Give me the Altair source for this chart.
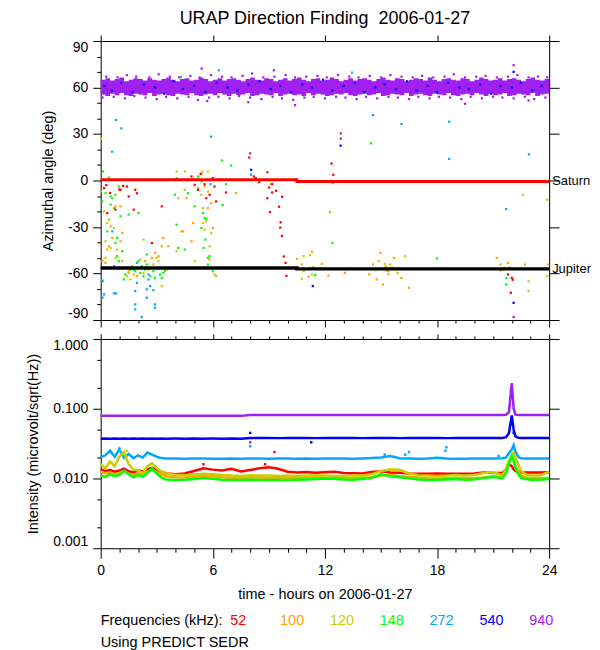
import altair as alt
import pandas as pd

FONT = "Liberation Sans"
TITLE = "URAP Direction Finding\u00a0 2006-01-27"
FREQS = ["52", "100", "120", "148", "272", "540", "940"]
COLORS = ["#ff0000", "#ffa500", "#cccc00", "#00ff00", "#00a8ff", "#0000ff", "#a020f0"]

# ---------------- top panel: azimuthal angle (hour, deg) ----------------
AZ_52 = [[0.18,-4.9],[0.35,-21.0],[0.3,-3.0],[0.5,-8.0],[0.79,-18.8],[1.0,-5.8],[1.06,-6.0],[1.2,-3.5],
         [1.41,-3.9],[1.5,-10.3],[1.77,-18.8],[1.85,-6.0],[1.94,-8.2],[2.74,-40.3],[3.27,-16.7],[4.86,2.6],
         [5.03,-2.8],[5.21,-6.0],[5.35,4.1],[5.56,-2.4],[5.65,-11.4],[5.83,-9.2],[6.0,1.5],[6.09,-3.9],
         [6.18,-13.5],[6.36,0.5],[6.71,-7.7],[7.95,14.8],[8.2,2.6],[8.3,1.5],[8.48,-1.1],[8.92,5.3],
         [8.92,-11.4],[9.01,-4.5],[9.06,-20.4],[9.18,-2.4],[9.18,-7.7],[9.39,-6.6],[9.54,-16.9],[9.61,-30.4],
         [9.63,-27.0],[9.7,-35.8],[9.71,-10.5],[9.8,-49.0],[9.89,-53.1],[9.94,-61.5],[11.27,-57.0],[12.36,10.9],
         [12.41,-1.3],[12.45,3.7],[21.8,-60.6],[21.95,-72.4],[22.0,-62.8],[22.05,-64.0]]
AZ_100 = [[0.09,-52.0],[0.26,-53.1],[0.44,-42.4],[0.53,-29.6],[0.62,-37.1],[0.79,-16.7],[1.06,-16.7],[1.15,-33.9],
          [1.5,-59.6],[1.68,-55.3],[1.94,-61.7],[2.38,-52.0],[2.74,-49.9],[2.91,-46.7],[3.09,-48.8],[3.35,-37.1],
          [3.53,-57.4],[3.62,-42.4],[4.33,-32.8],[4.5,-6.0],[4.59,-11.4],[4.86,-39.2],[4.94,-27.4],[5.39,4.7],
          [5.56,-3.9],[5.74,-17.8],[5.83,-51.0],[5.92,-14.6],[6.0,-30.7],[6.18,-61.7],[7.24,-8.2],[9.1,-2.2],
          [11.13,-62.1],[11.3,-46.1],[11.83,-53.8],[12.19,-61.3],[12.27,-20.4],[13.07,-59.6],[14.36,-60.6],
          [14.57,-54.2],[14.77,-63.8],[14.97,-46.7],[15.1,-67.0],[15.25,-55.5],[15.39,-58.5],[15.69,-49.9],
          [15.8,-57.5],[16.1,-62.8],[16.5,-69.2],[21.2,-49.9],[21.4,-58.0],[21.6,-56.4],[21.8,-53.1],[22.1,-57.0],
          [22.7,-54.2],[23.95,-54.2]]
AZ_120 = [[0.02,27.0],[0.0,-7.1],[0.18,-19.9],[0.26,-39.2],[0.26,-49.9],[0.35,-27.4],[0.35,-44.5],[0.44,-25.3],
          [0.53,-43.5],[0.71,-30.7],[0.79,-49.9],[0.88,-44.5],[1.06,-39.2],[1.15,-52.0],[1.32,-56.4],[1.41,-61.7],
          [1.5,-58.5],[1.59,-63.8],[1.77,-60.6],[1.85,-56.4],[2.03,-56.4],[2.12,-51.0],[2.29,-59.6],[2.29,-38.1],
          [2.56,-57.4],[2.82,-54.2],[3.0,-49.9],[3.09,-52.0],[3.27,-68.1],[3.27,-42.4],[3.62,-56.4],[4.06,5.8],
          [4.06,-45.6],[4.15,-11.4],[4.41,-32.8],[4.5,5.8],[5.03,-52.0],[5.21,-4.9],[5.39,-9.2],[5.44,5.8],
          [5.48,-17.8],[5.48,-27.4],[5.56,-31.7],[5.65,-26.3],[5.74,-7.1],[5.74,5.8],[5.83,-42.4],[5.92,-33.9],
          [6.09,-60.6],[10.51,-50.6],[10.77,-54.2],[10.77,-63.4],[10.86,-48.8],[10.86,-58.5],[11.2,-48.2],
          [11.2,-56.4],[11.3,-60.6],[11.39,-55.9],[14.7,-57.8],[14.88,-52.0],[15.0,-57.0],[15.18,-56.4],
          [15.2,-53.8],[15.3,-58.2],[15.4,-60.5],[15.49,-54.2],[15.6,-56.0],[15.75,-57.2],[15.9,-59.6],
          [16.0,-56.5],[16.3,-48.8],[21.4,-54.2],[21.5,-57.5],[21.9,-56.0],[22.6,-9.2],[22.9,-65.0],[22.9,-71.3],
          [23.9,-61.7],[23.9,-12.4]]
AZ_148 = [[0.09,-13.5],[0.12,5.8],[0.26,-8.2],[0.35,-32.8],[0.44,1.9],[0.53,-10.3],[0.53,-15.6],[0.62,-11.4],
          [0.71,-17.8],[0.79,-9.2],[0.79,-40.3],[0.88,-37.0],[0.88,-48.8],[0.97,-3.9],[0.97,-52.0],[1.06,-23.1],
          [1.15,-45.6],[1.24,-63.8],[1.32,-60.6],[1.5,-22.0],[1.5,-56.4],[1.59,-57.4],[1.85,-58.5],[2.03,-21.0],
          [2.03,-52.0],[2.12,-59.6],[2.2,-55.3],[2.29,-61.7],[2.38,-57.4],[2.47,-47.7],[2.47,-54.2],[2.65,-56.4],
          [2.65,-61.7],[2.82,-58.5],[2.91,-62.8],[3.0,-56.4],[3.18,-60.6],[3.27,-62.8],[3.35,-59.6],[3.44,-58.5],
          [3.97,-9.2],[4.06,1.5],[4.06,-28.5],[4.15,-43.5],[4.5,-44.5],[4.68,-8.2],[5.03,-16.7],[5.03,-56.4],
          [5.21,2.6],[5.39,-0.6],[5.39,-30.7],[5.48,-21.0],[5.51,-43.5],[5.56,-24.2],[5.6,-38.1],[5.65,-24.9],
          [5.65,-56.4],[5.74,-49.9],[5.74,-54.2],[5.83,-48.8],[6.0,-58.5],[6.5,12.9],[6.52,-15.8],[6.71,-2.4],
          [6.98,9.6],[11.48,-61.0],[12.4,-40.3],[14.46,24.0],[15.6,-57.0],[18.0,-50.3],[18.0,-56.5],
          [21.7,-62.8],[21.7,-67.1]]
AZ_272 = [[0.82,39.0],[1.11,33.6],[0.61,18.6],[5.91,28.3],[14.57,42.2],[16.1,36.4],[18.65,37.9],[18.65,13.9],
          [22.92,16.9],[21.7,-18.4],[0.1,-75.6],[0.82,-72.8],[0.1,-65.0],[6.32,71.1],[4.28,66.8],[13.45,69.6],
          [8.05,3.7],[1.94,-53.1],[1.77,-57.4],[1.94,-66.0],[1.85,-71.3],[1.85,-79.9],[1.85,-83.1],[2.2,-88.0],
          [2.56,-60.6],[2.56,-63.8],[2.65,-68.1],[2.47,-70.2],[2.82,-70.7],[2.47,-75.6],[2.91,-79.9],[2.91,-82.1],
          [0.18,-73.5],[0.71,-72.8],[0.62,-32.8],[0.09,-64.5],[0.71,-55.3],[5.88,-2.4]]
AZ_540 = [[22.1,-78.9],[11.35,-68.1],[12.84,22.5],[8.05,6.9],[22.1,70.1],
          [0.2,61],[0.6,58],[1.1,63],[1.7,57],[2.3,62],[2.9,60],[3.4,56],[3.9,64],[4.4,59],[5.0,61],[5.6,57],
          [6.2,63],[6.8,60],[7.3,58],[7.9,62],[8.5,64],[9.1,59],[9.6,61],[10.2,57],[10.8,62],[11.3,60],[11.9,65],
          [12.4,58],[13.0,61],[13.6,63],[14.1,57],[14.7,60],[15.2,62],[15.8,59],[16.4,64],[16.9,58],[17.5,61],
          [18.0,57],[18.6,63],[19.2,60],[19.7,59],[20.3,62],[20.9,56],[21.4,61],[22.0,60],[22.5,63],[23.1,58],
          [23.6,61]]
AZ_940 = [[0.3,67],[0.9,66.5],[1.4,68],[1.9,67],[2.6,66.5],[3.1,68.5],[3.7,67],[4.2,66.5],[4.8,67.5],[5.3,66.5],
          [5.9,68],[6.5,67],[7.0,66.5],[7.6,67.5],[8.1,69],[8.7,66.5],[9.3,67],[9.9,68],[10.4,66.5],[11.0,67],
          [11.6,67.5],[12.1,66.5],[12.7,68],[13.3,67],[13.8,66.5],[14.4,67.5],[15.0,66.5],[15.5,68],[16.1,67],
          [16.7,66.5],[17.2,67.5],[17.8,66.5],[18.4,67],[18.9,68.5],[19.5,66.5],[20.1,67],[20.6,67.5],[21.2,66.5],
          [21.8,67],[22.3,68],[22.9,66.5],[23.4,67],[23.9,66.5],
          [0.1,53.5],[0.7,54],[1.3,53],[1.8,54.5],[2.4,53.5],[3.0,52.5],[3.5,54],[4.1,53],[4.7,54],[5.2,52],
          [5.8,53.5],[6.3,54],[6.9,53],[7.4,54.5],[8.0,53.5],[8.6,52.5],[9.2,54],[9.7,53],[10.3,52],[10.9,53.5],
          [11.4,54],[12.0,53],[12.6,54],[13.1,53.5],[13.7,52.5],[14.2,54],[14.8,53],[15.4,54],[15.9,53.5],
          [16.5,52.5],[17.0,54],[17.6,53],[18.1,54],[18.7,53.5],[19.3,52.5],[19.8,54],[20.4,53],[21.0,54],
          [21.5,53.5],[22.1,53],[22.7,54],[23.2,52.5],[23.8,53.5],
          [5.4,72.2],[9.27,71.1],[22.1,74.4],[8.0,17.5],[12.85,30.4],[12.85,27.0],[22.1,-88.0],[22.9,51.6],
          [5.7,51.3],[10.4,48.6],[7.9,50.5],[19.5,49.5]]

# dense 940 kHz band: lower / upper edge of the solid core, every quarter hour
BAND_T = [0,0.25,0.5,0.75,1,1.25,1.5,1.75,2,2.25,2.5,2.75,3,3.25,3.5,3.75,4,4.25,4.5,4.75,5,5.25,5.5,5.75,
          6,6.25,6.5,6.75,7,7.25,7.5,7.75,8,8.25,8.5,8.75,9,9.25,9.5,9.75,10,10.25,10.5,10.75,11,11.25,11.5,11.75,
          12,12.25,12.5,12.75,13,13.25,13.5,13.75,14,14.25,14.5,14.75,15,15.25,15.5,15.75,16,16.25,16.5,16.75,
          17,17.25,17.5,17.75,18,18.25,18.5,18.75,19,19.25,19.5,19.75,20,20.25,20.5,20.75,21,21.25,21.5,21.75,
          22,22.25,22.5,22.75,23,23.25,23.5,23.75,24]
BAND_LO = [55.5,54.5,56,55,56.5,55,54.5,56,55.5,55,56.5,54.5,
           55.5,56,55,54.5,56,55.5,55,56.5,55,54.5,55.5,56,
           55,56.5,55.5,54.5,56,55,55.5,56.5,54.5,55,56,55.5,
           55,56.5,54.5,55.5,56,55,55.5,54.5,56.5,55,56,55.5,
           54.5,55,56,55.5,56.5,55,54.5,55.5,56,55,55.5,56.5,
           54.5,55,56,55.5,55,56.5,54.5,55.5,56,55,54.5,56,
           55.5,55,56.5,55,54.5,55.5,56,55,56.5,55.5,54.5,56,
           55,55.5,56.5,54.5,55,56,55.5,55,56.5,54.5,55.5,56,
           55]
BAND_HI = [65,66,64.5,65.5,66.5,64,65,66,65.5,64.5,66,65,
           64.5,65.5,66.5,65,64,65.5,66,64.5,65,66.5,65.5,64,
           65,66,64.5,65.5,66,65,64,65.5,66.5,65,64.5,66,
           65.5,64,65,66,64.5,65.5,66.5,65,64,65.5,66,64.5,
           65,66.5,65.5,64,65,66,64.5,65.5,66,65,64,65.5,
           66.5,65,64.5,66,65.5,64,65,66,65.5,64.5,66.5,65,
           64,65.5,66,65,64.5,66,65.5,64,65,66.5,65.5,64.5,
           65,66,64.5,65.5,66,65,64,65.5,66.5,65,64.5,65.5,
           65]

SATURN_T = [0, 10.5, 10.5, 24]
SATURN_DEG = [0.5, 0.5, -0.6, -0.6]
JUPITER_T = [0, 10.5, 10.5, 24]
JUPITER_DEG = [-56.4, -56.4, -57.0, -57.0]
BODY_NAMES = ["Saturn", "Jupiter"]

# ---------------- bottom panel: intensity ----------------
T = [0,0.25,0.5,0.75,1,1.25,1.5,1.75,2,2.25,2.5,2.75,3,3.25,3.5,
     4,4.5,5,5.5,6,6.5,7,7.5,8,8.5,9,9.5,10,10.5,11,11.5,12,12.5,13,13.5,14,14.5,15,15.5,16,16.5,17,17.5,
     18,18.5,19,19.5,20,20.5,21,21.5,
     21.7,21.85,22.0,22.1,22.2,22.35,22.5,22.75,23,23.5,24]
I_52 = [0.0135,0.0128,0.0132,0.0125,0.0130,0.0138,0.0127,0.0122,0.0131,0.0126,0.0135,0.0142,0.0133,0.0125,0.0118,
        0.0115,0.0118,0.0128,0.0140,0.0134,0.0130,0.0138,0.0126,0.0132,0.0140,0.0145,0.0138,0.0125,0.0122,0.0124,
        0.0121,0.0123,0.0125,0.0120,0.0119,0.0118,0.0124,0.0127,0.0122,0.0121,0.0118,0.0117,0.0117,0.0118,0.0117,
        0.0117,0.0117,0.0118,0.0122,0.0120,0.0121,
        0.0135,0.0160,0.0150,0.0135,0.0128,0.0125,0.0123,0.0122,0.0122,0.0122,0.0123]
I_100 = [0.0125,0.0118,0.0122,0.0115,0.0120,0.0128,0.0117,0.0112,0.0119,0.0115,0.0125,0.0132,0.0124,0.0114,0.0108,
         0.0104,0.0103,0.0106,0.0110,0.0108,0.0104,0.0102,0.0101,0.0104,0.0103,0.0102,0.0101,0.0102,0.0101,0.0103,
         0.0104,0.0102,0.0101,0.0101,0.0102,0.0103,0.0104,0.0110,0.0112,0.0108,0.0106,0.0103,0.0101,0.0100,0.0101,
         0.0102,0.0101,0.0101,0.0103,0.0108,0.0105,
         0.0130,0.0175,0.0200,0.0180,0.0150,0.0125,0.0110,0.0104,0.0101,0.0101,0.0102]
I_120 = [0.0160,0.0140,0.0175,0.0150,0.0205,0.0240,0.0160,0.0135,0.0130,0.0120,0.0150,0.0165,0.0140,0.0125,0.0118,
         0.0113,0.0111,0.0114,0.0117,0.0115,0.0112,0.0110,0.0109,0.0111,0.0110,0.0110,0.0109,0.0110,0.0109,0.0110,
         0.0111,0.0110,0.0109,0.0109,0.0110,0.0110,0.0115,0.0128,0.0135,0.0133,0.0118,0.0111,0.0110,0.0109,0.0110,
         0.0112,0.0110,0.0112,0.0120,0.0123,0.0112,
         0.0140,0.0180,0.0215,0.0235,0.0200,0.0160,0.0128,0.0115,0.0110,0.0110,0.0125]
I_148 = [0.0110,0.0105,0.0115,0.0108,0.0112,0.0130,0.0115,0.0104,0.0112,0.0106,0.0120,0.0140,0.0118,0.0103,0.0097,
         0.0095,0.0096,0.0098,0.0102,0.0099,0.0096,0.0095,0.0095,0.0096,0.0095,0.0095,0.0095,0.0095,0.0096,0.0097,
         0.0098,0.0100,0.0099,0.0097,0.0096,0.0098,0.0102,0.0115,0.0108,0.0104,0.0101,0.0097,0.0095,0.0096,0.0097,
         0.0098,0.0096,0.0097,0.0102,0.0105,0.0101,
         0.0120,0.0165,0.0210,0.0180,0.0140,0.0115,0.0102,0.0098,0.0096,0.0096,0.0098]
I_272 = [0.0200,0.0215,0.0250,0.0205,0.0260,0.0198,0.0225,0.0195,0.0215,0.0200,0.0235,0.0220,0.0205,0.0196,0.0193,
         0.0193,0.0192,0.0193,0.0193,0.0192,0.0192,0.0193,0.0192,0.0193,0.0193,0.0192,0.0193,0.0193,0.0192,0.0193,
         0.0192,0.0193,0.0193,0.0193,0.0192,0.0194,0.0196,0.0200,0.0210,0.0195,0.0193,0.0192,0.0193,0.0198,0.0193,
         0.0192,0.0192,0.0193,0.0193,0.0193,0.0195,
         0.0200,0.0230,0.0260,0.0300,0.0240,0.0205,0.0195,0.0193,0.0193,0.0193,0.0193]
I_540 = [0.0372,0.0374,0.0372,0.0373,0.0372,0.0374,0.0372,0.0373,0.0372,0.0374,0.0372,0.0373,0.0372,0.0374,0.0372,
         0.0373,0.0372,0.0374,0.0372,0.0373,0.0372,0.0374,0.0372,0.0380,0.0381,0.0380,0.0379,0.0381,0.0380,0.0380,
         0.0379,0.0381,0.0380,0.0380,0.0381,0.0379,0.0380,0.0381,0.0380,0.0379,0.0380,0.0381,0.0380,0.0380,0.0379,
         0.0381,0.0380,0.0380,0.0381,0.0380,0.0380,
         0.0390,0.0450,0.0800,0.0500,0.0400,0.0382,0.0380,0.0380,0.0381,0.0380,0.0380]
I_940 = [0.0790,0.0790,0.0791,0.0790,0.0790,0.0791,0.0790,0.0790,0.0791,0.0790,0.0790,0.0791,0.0790,0.0790,0.0791,
         0.0790,0.0790,0.0791,0.0790,0.0790,0.0791,0.0790,0.0790,0.0810,0.0810,0.0811,0.0810,0.0810,0.0811,0.0810,
         0.0810,0.0811,0.0810,0.0810,0.0811,0.0810,0.0810,0.0811,0.0810,0.0810,0.0811,0.0810,0.0810,0.0811,0.0810,
         0.0810,0.0811,0.0810,0.0810,0.0811,0.0810,
         0.0820,0.0900,0.2330,0.1000,0.0820,0.0810,0.0810,0.0810,0.0811,0.0810,0.0810]
# isolated samples off the main traces: [freq, hour, intensity]
I_EXTRA = [["940",8.0,0.033],["540",8.0,0.045],["272",8.0,0.029],["540",11.27,0.033],["52",9.3,0.024],
           ["272",16.3,0.022],["272",16.5,0.024],["272",18.5,0.028],["272",18.45,0.025],["272",15.2,0.022],
           ["272",1.0,0.027],["272",0.5,0.024],["120",1.4,0.025],["52",5.5,0.016],["52",8.8,0.016],
           ["272",21.3,0.021],["940",22.05,0.15],["940",21.95,0.18],["540",22.05,0.06],["540",22.1,0.045]]

LEGEND_PREFIX = "Frequencies (kHz):"
FOOTNOTE = "Using PREDICT SEDR"

# ---------------- frames ----------------
az_rows = []
for f, pts in zip(["940", "540", "272", "148", "120", "100", "52"],
                  [AZ_940, AZ_540, AZ_272, AZ_148, AZ_120, AZ_100, AZ_52]):
    for h, d in pts:
        az_rows.append({"freq": f, "hour": h, "deg": d})
az_df = pd.DataFrame(az_rows)
band_df = pd.DataFrame({"hour": BAND_T, "lo": BAND_LO, "hi": BAND_HI})
sat_df = pd.DataFrame({"hour": SATURN_T, "deg": SATURN_DEG})
jup_df = pd.DataFrame({"hour": JUPITER_T, "deg": JUPITER_DEG})
body_df = pd.DataFrame({"name": BODY_NAMES, "hour": [SATURN_T[-1], JUPITER_T[-1]],
                        "deg": [SATURN_DEG[-1], JUPITER_DEG[-1]]})

int_rows = []
for f, vals in zip(["940", "540", "272", "52", "100", "120", "148"],
                   [I_940, I_540, I_272, I_52, I_100, I_120, I_148]):
    for t, v in zip(T, vals):
        int_rows.append({"freq": f, "hour": t, "val": v})
int_df = pd.DataFrame(int_rows)
extra_df = pd.DataFrame(I_EXTRA, columns=["freq", "hour", "val"])

# ---------------- scales / axes ----------------
color = alt.Color("freq:N", scale=alt.Scale(domain=FREQS, range=COLORS), legend=None)
XS = alt.Scale(domain=[0, 24], nice=False, zero=False)
YS_AZ = alt.Scale(domain=[-90, 90], nice=False, zero=False)
YS_I = alt.Scale(type="log", domain=[0.001, 1], nice=False)


def cond(test, a, b):
    return {"condition": {"test": test, "value": a}, "value": b}


AX_COMMON = dict(grid=False, domain=False, tickColor="black", labelColor="black", titleColor="black",
                 labelFont=FONT, titleFont=FONT, labelFontSize=14, titleFontSize=14.5,
                 titleFontWeight="normal")
HOURS = list(range(25))
MAJOR_H = "datum.value % 6 === 0"

ax_top_xb = alt.Axis(values=HOURS, labels=False, title=None, tickSize=cond(MAJOR_H, 7, 3), **AX_COMMON)
ax_top_yl = alt.Axis(values=list(range(-90, 91, 10)),
                     labelExpr="datum.value % 30 === 0 ? '' + datum.value : ''",
                     tickSize=cond("datum.value % 30 === 0", 8, 4), labelPadding=5, labelFlush=True,
                     title="Azimuthal angle (deg)", titlePadding=12, **AX_COMMON)
ax_top_xt = alt.Axis(orient="top", values=[0, 6, 12, 18, 24], labels=False, title=None, tickSize=6,
                     **AX_COMMON)
ax_top_yr = alt.Axis(orient="right", values=[-90, -60, -30, 0, 30, 60, 90], labels=False, title=None,
                     tickSize=10, **AX_COMMON)

DECADE = "datum.value == 0.001 || datum.value == 0.01 || datum.value == 0.1 || datum.value == 1"
ax_bot_xb = alt.Axis(values=HOURS, labelExpr=MAJOR_H + " ? '' + datum.value : ''",
                     tickSize=cond(MAJOR_H, 10, 4), labelPadding=5, labelFlush=False,
                     title="time - hours on 2006-01-27", titlePadding=10, **AX_COMMON)
ax_bot_xt = alt.Axis(orient="top", values=HOURS, labels=False, title=None, tickSize=cond(MAJOR_H, 5, 3),
                     **AX_COMMON)
ax_bot_yl = alt.Axis(values=[0.001, 0.002, 0.005, 0.01, 0.02, 0.05, 0.1, 0.2, 0.5, 1],
                     labelExpr="(" + DECADE + ") ? format(datum.value, '.3f') : ''",
                     tickSize=cond(DECADE, 8, 4), labelPadding=5, labelFlush=True,
                     title="Intensity (microvolt/sqrt(Hz))", titlePadding=12, **AX_COMMON)
ax_bot_yr = alt.Axis(orient="right", values=[0.001, 0.01, 0.1, 1], labels=False, title=None, tickSize=10,
                     **AX_COMMON)

# ---------------- top panel ----------------
band = alt.Chart(band_df).mark_area(color=COLORS[6], opacity=1, interpolate="step-after").encode(
    x=alt.X("hour:Q", scale=XS, axis=ax_top_xb),
    y=alt.Y("lo:Q", scale=YS_AZ, axis=ax_top_yl),
    y2="hi:Q",
)
scatter = alt.Chart(az_df).mark_square(size=5, opacity=1).encode(
    x=alt.X("hour:Q", scale=XS, axis=None),
    y=alt.Y("deg:Q", scale=YS_AZ, axis=None),
    color=color,
)
saturn = alt.Chart(sat_df).mark_line(color="#ff0000", strokeWidth=3).encode(
    x=alt.X("hour:Q", scale=XS, axis=ax_top_xt),
    y=alt.Y("deg:Q", scale=YS_AZ, axis=ax_top_yr),
)
jupiter = alt.Chart(jup_df).mark_line(color="black", strokeWidth=3.5).encode(
    x=alt.X("hour:Q", scale=XS, axis=None),
    y=alt.Y("deg:Q", scale=YS_AZ, axis=None),
)
bodies = alt.Chart(body_df).mark_text(align="left", baseline="middle", dx=3, font=FONT, fontSize=13,
                                      color="black").encode(
    x=alt.X("hour:Q", scale=XS, axis=None),
    y=alt.Y("deg:Q", scale=YS_AZ, axis=None),
    text="name:N",
)
top = alt.layer(band, scatter, saturn, jupiter, bodies).resolve_scale(
    x="independent", y="independent"
).properties(
    width=450, height=280,
    title=alt.TitleParams(TITLE, font=FONT, fontSize=18, fontWeight="normal", anchor="middle",
                          frame="group", offset=7, color="black"),
)

# ---------------- bottom panel ----------------
lines = alt.Chart(int_df).mark_line(strokeWidth=2.5).encode(
    x=alt.X("hour:Q", scale=XS, axis=ax_bot_xb),
    y=alt.Y("val:Q", scale=YS_I, axis=ax_bot_yl),
    color=color,
    detail="freq:N",
)
extras = alt.Chart(extra_df).mark_square(size=6, opacity=1).encode(
    x=alt.X("hour:Q", scale=XS, axis=ax_bot_xt),
    y=alt.Y("val:Q", scale=YS_I, axis=ax_bot_yr),
    color=color,
)
legend_layers = [
    alt.Chart(pd.DataFrame({"t": [LEGEND_PREFIX]})).mark_text(
        align="left", baseline="middle", font=FONT, fontSize=14.5, color="black"
    ).encode(x=alt.value(0), y=alt.value(283), text="t:N"),
    alt.Chart(pd.DataFrame({"t": [FOOTNOTE]})).mark_text(
        align="left", baseline="middle", font=FONT, fontSize=14.5, color="black"
    ).encode(x=alt.value(0), y=alt.value(305), text="t:N"),
]
for i, (f, c) in enumerate(zip(FREQS, COLORS)):
    legend_layers.append(
        alt.Chart(pd.DataFrame({"t": [f]})).mark_text(
            align="left", baseline="middle", font=FONT, fontSize=14.5, color=c
        ).encode(x=alt.value(130 + 50 * i), y=alt.value(283), text="t:N")
    )

bottom = alt.layer(lines, extras, *legend_layers).resolve_scale(
    x="independent", y="independent"
).properties(width=450, height=210)

chart = alt.vconcat(top, bottom, spacing=5).properties(
    padding={"left": 17, "top": 0, "right": 0, "bottom": 0}
).configure_view(stroke="black", strokeWidth=1)

chart.save("out.html", embed_options={"renderer": "svg", "actions": False})
